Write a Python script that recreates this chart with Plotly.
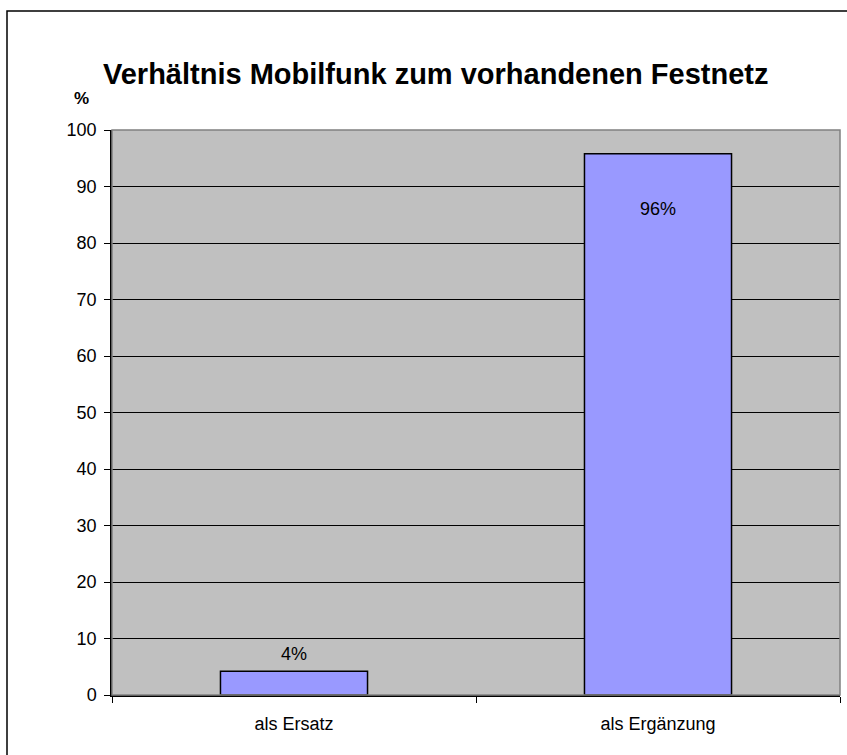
import plotly.graph_objects as go

categories = ["als Ersatz", "als Ergänzung"]
values = [4.2, 95.8]
labels = ["4%", "96%"]
y_ticks = [0, 10, 20, 30, 40, 50, 60, 70, 80, 90, 100]
title_text = "Verhältnis Mobilfunk zum vorhandenen Festnetz"
y_unit = "%"

FONT = "Arial, Liberation Sans, sans-serif"

W, H = 847, 755
L, R, T, B = 112, 840, 130, 695
pw, ph = R - L, B - T

def px_x(x):
    return (x - L) / pw

def px_y(y):
    return (B - y) / ph

fig = go.Figure()
fig.add_trace(go.Bar(
    x=categories, y=values, width=0.404,
    marker=dict(color="#9999FF", line=dict(color="black", width=1.5)),
    hoverinfo="skip",
))

annotations = []
offsets = [17, -55]
for c, v, t, o in zip(categories, values, labels, offsets):
    annotations.append(dict(x=c, y=v, text=t, showarrow=False, yshift=o,
                            xref="x", yref="y", xanchor="center", yanchor="middle",
                            font=dict(family=FONT, size=18, color="black")))
annotations.append(dict(x=px_x(435), y=px_y(74), xref="paper", yref="paper",
                        xanchor="center", yanchor="middle",
                        text="<b>" + title_text + "</b>", showarrow=False,
                        font=dict(family=FONT, size=29, color="black")))
annotations.append(dict(x=px_x(81), y=px_y(99), xref="paper", yref="paper",
                        xanchor="center", yanchor="middle",
                        text="<b>" + y_unit + "</b>", showarrow=False,
                        font=dict(family=FONT, size=17, color="black")))

shapes = [
    dict(type="rect", xref="paper", yref="paper", x0=0, x1=1, y0=0, y1=1,
         line=dict(color="#808080", width=1.5), layer="above"),
    dict(type="rect", xref="paper", yref="paper",
         x0=px_x(7), x1=px_x(852), y0=px_y(762), y1=px_y(11),
         line=dict(color="black", width=1.5)),
]

fig.update_layout(
    width=W, height=H,
    margin=dict(l=L, r=W - R, t=T, b=H - B, pad=0),
    paper_bgcolor="white", plot_bgcolor="#C0C0C0",
    showlegend=False,
    annotations=annotations, shapes=shapes,
    font=dict(family=FONT, size=18, color="black"),
)
fig.update_xaxes(
    type="category", range=[-0.5, 1.5],
    showline=True, linecolor="black", linewidth=1.5,
    ticks="outside", tickson="boundaries", ticklen=6, tickcolor="black",
    showgrid=False, ticklabelstandoff=12,
    tickfont=dict(family=FONT, size=18, color="black"),
)
fig.update_yaxes(
    range=[0, 100], tickvals=y_ticks,
    showline=True, linecolor="black", linewidth=1.5,
    ticks="outside", ticklen=6, tickcolor="black",
    showgrid=True, gridcolor="black", gridwidth=1,
    zeroline=False, ticklabelstandoff=4,
    tickfont=dict(family=FONT, size=18, color="black"),
)

fig.write_html("out.html", config={"displayModeBar": False},
               post_script="document.body.style.margin='0px';")
